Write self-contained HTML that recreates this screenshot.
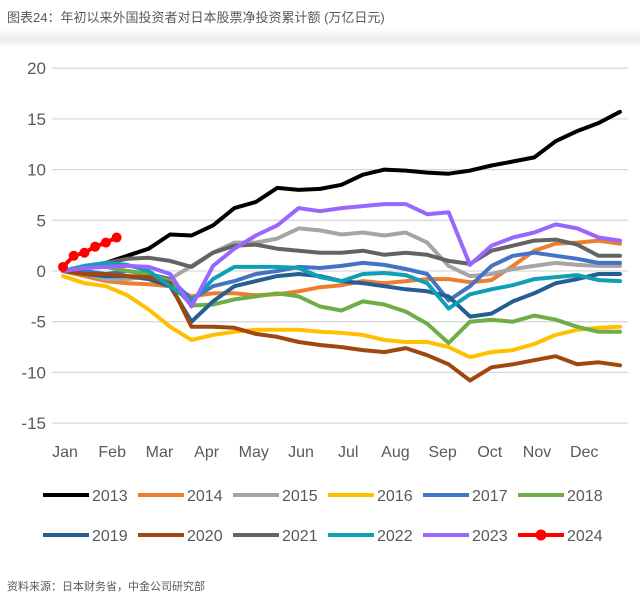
<!DOCTYPE html>
<html><head><meta charset="utf-8"><style>
body{margin:0;background:#fff;width:640px;height:602px;overflow:hidden;font-family:"Liberation Sans","Noto Sans CJK SC",sans-serif}
#title{position:absolute;left:7px;top:7px;font-size:13px;color:#595959}
#shade{position:absolute;left:0;top:28px;width:640px;height:20px;background:linear-gradient(#fff,#ececec 60%,#fff)}
#src{position:absolute;left:7px;top:578px;font-size:11px;color:#595959}
svg{position:absolute;left:0;top:0}
</style></head><body>
<div id="shade"></div>
<div id="title">图表24：年初以来外国投资者对日本股票净投资累计额 (万亿日元)</div>
<svg id="chart" width="640" height="602"></svg>
<div id="src">资料来源：日本财务省，中金公司研究部</div>
<script>
const years=["2013","2014","2015","2016","2017","2018","2019","2020","2021","2022","2023","2024"];
const colors=["#000000","#ED7D31","#A5A5A5","#FFC000","#4472C4","#70AD47","#255E91","#9E480E","#636363","#0FA0B5","#9966FF","#FF0000"];
const months=["Jan","Feb","Mar","Apr","May","Jun","Jul","Aug","Sep","Oct","Nov","Dec"];
const yTicks=[20,15,10,5,0,-5,-10,-15];
const s2013=[0,0.3,0.8,1.5,2.2,3.6,3.5,4.5,6.2,6.8,8.2,8.0,8.1,8.5,9.5,10,9.9,9.7,9.6,9.9,10.4,10.8,11.2,12.8,13.8,14.6,15.7];
const s2014=[0,-0.5,-1,-1.2,-1.3,-1.5,-2.5,-2.2,-2.2,-2.4,-2.3,-2,-1.6,-1.4,-1,-1.2,-1.0,-0.8,-0.8,-1.1,-0.9,0.5,2,2.7,2.8,3,2.7];
const s2015=[0,-0.2,-0.8,-0.8,-0.5,-0.8,0.5,1.8,2.8,2.8,3.2,4.2,4,3.6,3.8,3.5,3.8,2.8,0.5,-0.5,-0.3,0.2,0.5,0.8,0.6,0.5,0.5];
const s2016=[-0.5,-1.2,-1.5,-2.4,-3.8,-5.5,-6.8,-6.3,-6,-5.8,-5.8,-5.8,-6,-6.1,-6.3,-6.8,-7,-7,-7.5,-8.5,-8,-7.8,-7.2,-6.3,-5.8,-5.6,-5.5];
const s2017=[0,0,-0.3,0,-0.3,-0.8,-2.8,-1.5,-1,-0.3,0,0.4,0.3,0.5,0.8,0.6,0.2,-0.3,-2.9,-1.5,0.5,1.5,1.8,1.5,1.2,0.8,0.8];
const s2018=[0,0.5,0.4,0,-0.3,-1,-3.4,-3.3,-2.8,-2.5,-2.2,-2.5,-3.5,-3.9,-3,-3.3,-4,-5.2,-7.1,-5,-4.8,-5,-4.4,-4.8,-5.5,-6,-6];
const s2019=[0,-0.3,-0.5,-0.5,-0.8,-1.5,-5,-3,-1.5,-1,-0.5,-0.3,-0.5,-1,-1.2,-1.5,-1.8,-2,-2.5,-4.5,-4.2,-3,-2.2,-1.2,-0.8,-0.3,-0.3];
const s2020=[0,-0.3,-0.3,-0.5,-0.6,-1.2,-5.5,-5.5,-5.6,-6.2,-6.5,-7,-7.3,-7.5,-7.8,-8,-7.6,-8.3,-9.2,-10.8,-9.5,-9.2,-8.8,-8.4,-9.2,-9,-9.3];
const s2021=[0,0.4,0.8,1.2,1.3,1.0,0.4,1.8,2.5,2.6,2.2,2.0,1.8,1.8,2.0,1.6,1.8,1.6,1.0,0.7,2.0,2.5,3.0,3.1,2.6,1.5,1.5];
const s2022=[0,0.5,0.8,0.6,0,-1.5,-3.0,-0.8,0.4,0.4,0.4,0.3,-0.6,-1.0,-0.3,-0.2,-0.4,-1.2,-3.7,-2.3,-1.8,-1.4,-0.8,-0.6,-0.4,-0.9,-1];
const s2023=[0,0.3,0.4,0.5,0.4,-0.3,-3.5,0.5,2.2,3.5,4.5,6.2,5.9,6.2,6.4,6.6,6.6,5.6,5.8,0.6,2.5,3.3,3.8,4.6,4.2,3.3,3];
const s2024=[0.4,1.5,1.8,2.4,2.8,3.3];
const series=[s2013,s2014,s2015,s2016,s2017,s2018,s2019,s2020,s2021,s2022,s2023];
const NS="http://www.w3.org/2000/svg";
const svg=document.getElementById("chart");
const X0=63,X1=620,WEEKS=52;
const xw=w=>X0+w*(X1-X0)/WEEKS;
const y=v=>271-v*10.14;
function el(t,a,p){const e=document.createElementNS(NS,t);for(const k in a)e.setAttribute(k,a[k]);(p||svg).appendChild(e);return e;}
yTicks.forEach(t=>{
  const g=el("line",{x1:52,x2:628,y1:y(t),y2:y(t),stroke:"#d9d9d9","stroke-width":1.3});
  
  
  const l=el("text",{x:46,y:y(t)+6,"text-anchor":"end","font-size":17,fill:"#595959"});
  l.textContent=t;
  
  
});
months.forEach((m,i)=>{
  const l=el("text",{x:65+i*47.2,y:457,"text-anchor":"middle","font-size":16,fill:"#595959"});
  l.textContent=m;
  
  
});
series.forEach((s,k)=>{
  const pts=s.map((v,i)=>xw(i*2).toFixed(1)+","+y(v).toFixed(1)).join(" ");
  const p=el("polyline",{points:pts,fill:"none",stroke:colors[k],"stroke-width":4,"stroke-linejoin":"round","stroke-linecap":"round"});
  
  
});
const rp=s2024.map((v,i)=>xw(i).toFixed(1)+","+y(v).toFixed(1)).join(" ");
const rl=el("polyline",{points:rp,fill:"none",stroke:"#FF0000","stroke-width":4});


s2024.forEach((v,i)=>{
  const c=el("circle",{cx:xw(i),cy:y(v),r:5,fill:"#FF0000"});
  
  
});
years.forEach((yr,k)=>{
  const r=Math.floor(k/6),c=k%6;
  const lx=43+c*95,ly=495+r*40;
  const g=el("g",{});
  
  
  el("line",{x1:lx,x2:lx+46,y1:ly,y2:ly,stroke:colors[k],"stroke-width":4},g);
  if(k===11)el("circle",{cx:lx+23,cy:ly,r:5.5,fill:"#FF0000"},g);
  const t=el("text",{x:lx+49,y:ly+6,"font-size":16,fill:"#595959"},g);
  t.textContent=yr;
});
</script>
</body></html>
